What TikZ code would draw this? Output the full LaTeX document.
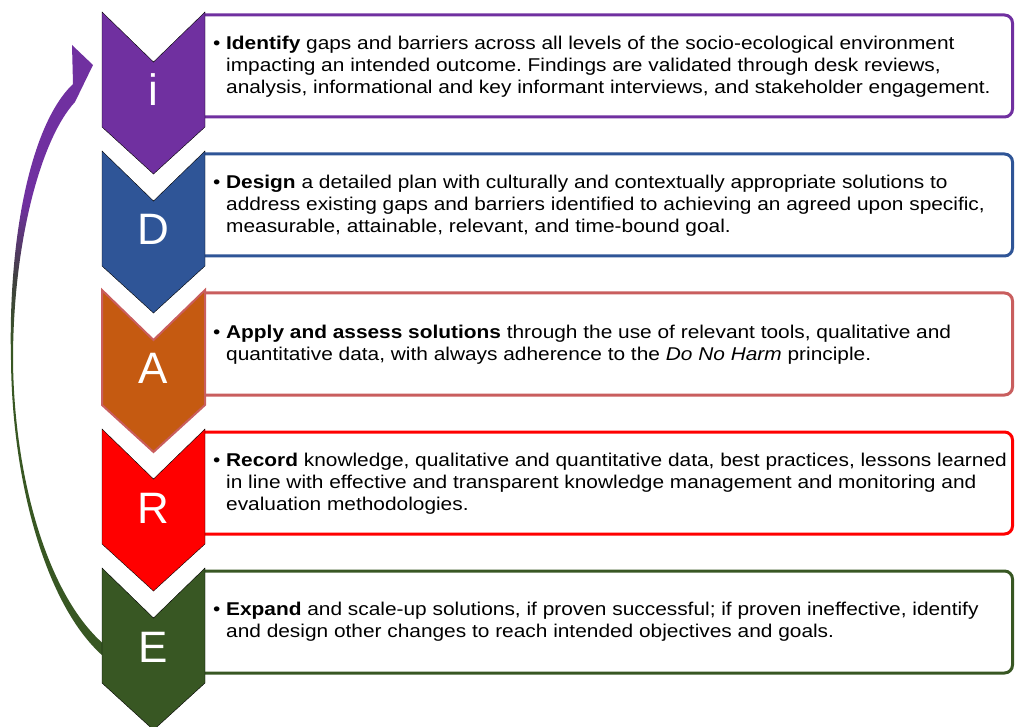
\documentclass[tikz,border=0pt]{standalone}
\usepackage{fontspec}
\setmainfont{Liberation Sans}
\frenchspacing
\definecolor{cpurp}{HTML}{7030A0}
\definecolor{cblue}{HTML}{2F5597}
\definecolor{corange}{HTML}{C55A11}
\definecolor{crose}{HTML}{C95E5E}
\definecolor{cred}{HTML}{FF0000}
\definecolor{cgreen}{HTML}{385723}
\pgfdeclareverticalshading{arrowshade}{100bp}{color(0bp)=(cgreen); color(50bp)=(cgreen); color(56bp)=(black!75); color(62bp)=(cpurp); color(100bp)=(cpurp)}
\newcommand{\mychev}[3]{%
  \draw[#2] (102,#1) -- (153.5,#1+50) -- (205,#1) -- (205,#1+115) -- (153.5,#1+162) -- (102,#1+115) -- cycle;
  \node[letter] (L#3) at (153.5,#1+94) {#3};}
\newcommand{\mybox}[2]{%
  \draw[boxline,#2,rounded corners=8pt] (205,#1+3) -- (1012.5,#1+3) -- (1012.5,#1+105) -- (205,#1+105);}
\newcommand{\desctext}[1]{\scalebox{1.128}[1]{\begin{tabular}{@{}l@{}l@{}}#1\end{tabular}}}
\tikzset{
  letter/.style={anchor=base,text=white,font=\fontsize{44}{50}\selectfont,inner sep=0pt},
  boxline/.style={line width=3pt},
  desc/.style={anchor=west,inner sep=0pt,align=left,font=\fontsize{18.5}{22}\selectfont}
}
\begin{document}
\begin{tikzpicture}[x=1pt,y=-1pt]
\useasboundingbox (0,0) rectangle (1015,727);
% curved return arrow
\shade[shading=arrowshade]
  (73,84) -- (72,45) -- (93,65) -- (75,102)
  .. controls (40,140) and (13,245) .. (13,360)
  .. controls (14,478) and (48,598) .. (106,646)
  -- (106,657) -- (103,656)
  .. controls (45,605) and (12,480) .. (11,360)
  .. controls (8,240) and (30,125) .. (73,84) -- cycle;
% boxes
\mybox{12}{cpurp}
\mybox{151}{cblue}
\mybox{290}{crose}
\mybox{429}{cred}
\mybox{568}{cgreen}
% chevrons
\mychev{12}{fill=cpurp}{i}
\mychev{151}{fill=cblue}{D}
\mychev{290}{fill=corange,draw=crose,line width=2pt}{A}
\mychev{429}{fill=cred}{R}
\mychev{568}{fill=cgreen}{E}
% texts
\node[desc] (t1) at (213,67) {\desctext{%
\makebox[11.5pt][l]{•}&\textbf{Identify} gaps and barriers across all levels of the socio-ecological environment\\
&impacting an intended outcome. Findings are validated through desk reviews,\\
&analysis, informational and key informant interviews, and stakeholder engagement.}};
\node[desc] (t2) at (213,206) {\desctext{%
\makebox[11.5pt][l]{•}&\textbf{Design} a detailed plan with culturally and contextually appropriate solutions to\\
&address existing gaps and barriers identified to achieving an agreed upon specific,\\
&measurable, attainable, relevant, and time-bound goal.}};
\node[desc] (t3) at (213,345) {\desctext{%
\makebox[11.5pt][l]{•}&\textbf{Apply and assess solutions} through the use of relevant tools, qualitative and\\
&quantitative data, with always adherence to the \textit{Do No Harm} principle.}};
\node[desc] (t4) at (213,484) {\desctext{%
\makebox[11.5pt][l]{•}&\textbf{Record} knowledge, qualitative and quantitative data, best practices, lessons learned\\
&in line with effective and transparent knowledge management and monitoring and\\
&evaluation methodologies.}};
\node[desc] (t5) at (213,622) {\desctext{%
\makebox[11.5pt][l]{•}&\textbf{Expand} and scale-up solutions, if proven successful; if proven ineffective, identify\\
&and design other changes to reach intended objectives and goals.}};
\end{tikzpicture}
\end{document}
